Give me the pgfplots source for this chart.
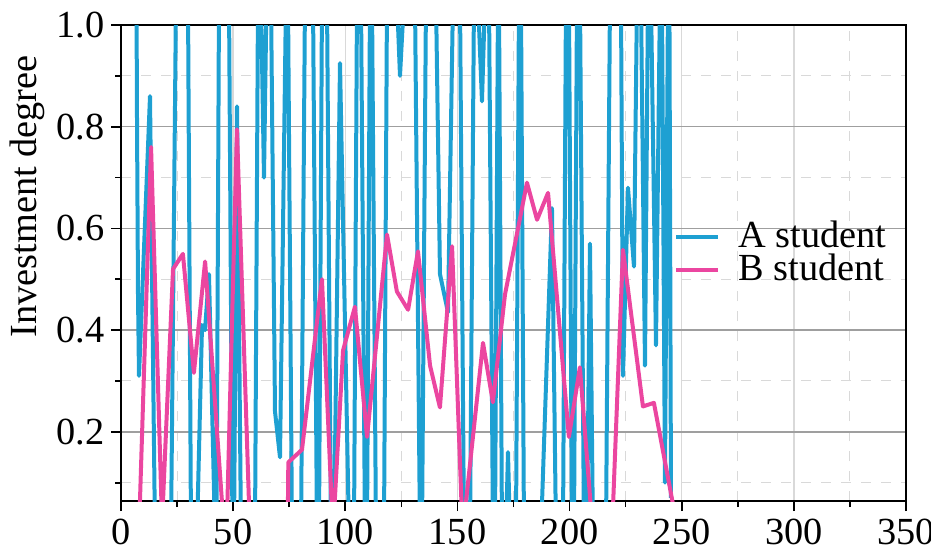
\documentclass[border=0pt]{standalone}
\usepackage{pgfplots}
\pgfplotsset{compat=1.18}
\usepackage{fontspec}
\setmainfont{Liberation Serif}
\definecolor{astu}{RGB}{30,160,210}
\definecolor{bstu}{RGB}{235,70,160}

\begin{document}
\begin{tikzpicture}
\begin{axis}[
  scale only axis, width=235.5pt, height=142.8pt,
  xmin=0, xmax=350, ymin=0.064, ymax=1.0,
  xtick={0,50,...,350}, minor xtick={25,75,...,325},
  ytick={0.2,0.4,0.6,0.8,1.0}, minor ytick={0.1,0.3,0.5,0.7,0.9},
  yticklabel style={/pgf/number format/fixed, /pgf/number format/fixed zerofill,
    /pgf/number format/precision=1, xshift=1.5pt},
  xticklabel style={yshift=1.2pt},
  /pgf/number format/assume math mode=true,
  tick align=outside, xtick pos=bottom, ytick pos=left,
  major tick length=3pt, minor tick length=1.8pt,
  tick style={black, line width=0.5pt},
  axis line style={line width=0.7pt},
  grid=both,
  major x grid style={gray!30, line width=0.4pt},
  minor x grid style={gray!30, dashed, line width=0.3pt},
  major y grid style={gray!75, line width=0.4pt},
  minor y grid style={gray!30, dashed, line width=0.3pt},
  ticklabel style={font=\fontsize{11.5}{13}\selectfont},
  ylabel={Investment degree},
  ylabel style={font=\fontsize{11.5}{13}\selectfont, at={(ticklabel cs:0.64,-3.5pt)}},
  legend style={at={(rel axis cs:0.995,0.52)}, anchor=east, draw=none, fill=none,
    font=\fontsize{11.5}{13}\selectfont, row sep=-2.5pt, column sep=4pt,
    nodes={inner sep=1.5pt}},
  legend cell align=left,
  legend image code/.code={\draw[#1] (0cm,0cm) -- (0.44cm,0cm);},
]
% A student
\addplot[astu, line width=1.2pt, line join=round] coordinates {
(6.91,1.05) (7.13,0.82) (7.58,0.47) (8.02,0.31) (12.93,0.86) (15.16,0.0)
(22.29,0.0) (24.52,1.05) (29.87,1.05) (31.21,0.0) (33.88,0.0) (36.13,0.41)
(37.45,0.40) (39.23,0.51) (41.91,0.0) (42.58,0.0) (43.69,1.05) (48.15,1.05)
(49.71,0.0) (50.38,0.0) (51.72,0.84) (53.50,0.0) (59.74,0.0) (61.08,1.05)
(62.42,1.05) (63.75,0.70) (64.87,1.05) (66.88,1.05) (68.66,0.24) (70.89,0.15)
(73.56,1.05) (74.45,1.05) (76.24,0.0) (80.25,0.0) (82.03,1.05) (85.60,1.05)
(87.38,0.0) (88.27,0.0) (89.61,1.05) (91.84,1.05) (93.62,0.0) (94.96,0.0)
(97.64,0.925) (101.65,0.0) (103.88,0.0) (105.22,1.05) (107.00,1.05) (108.78,0.0)
(109.68,0.0) (111.01,1.05) (111.90,1.05) (113.69,0.0) (117.25,0.0) (118.59,1.05)
(123.05,1.05) (124.39,0.90) (126.17,1.05) (131.07,1.05) (133.30,0.0) (134.19,0.0)
(135.98,1.05) (140.44,1.05) (142.22,0.51) (145.79,0.435) (148.02,1.05) (151.14,1.05)
(152.92,0.0) (155.60,0.0) (157.38,1.05) (159.16,1.05) (160.94,0.85) (162.28,1.05)
(164.07,1.05) (165.85,0.0) (166.74,0.0) (168.08,1.05) (168.52,1.05) (169.86,0.0)
(171.64,0.0) (172.54,0.16) (173.43,0.0) (176.10,0.0) (177.44,1.05) (178.33,1.05)
(179.67,0.0) (187.25,0.0) (192.15,0.64) (193.94,0.0) (197.06,0.0) (198.39,1.05)
(199.73,1.05) (201.07,0.0) (201.96,0.0) (203.30,1.05) (204.64,1.05) (206.42,0.0)
(207.76,0.0) (209.09,0.57) (210.43,0.0) (216.23,0.0) (218.01,1.05) (222.92,1.05)
(223.81,0.31) (226.04,0.68) (228.71,0.525) (230.05,1.05) (231.83,1.05) (233.62,0.33)
(234.95,1.05) (236.29,1.05) (238.52,0.37) (240.30,1.05) (241.19,1.05) (242.53,0.10)
(243.87,1.05) (244.50,1.05) (245.21,0.07)
};
% B student
\addplot[bstu, line width=1.2pt, line join=round] coordinates {
(8.0,0.0) (13.4,0.76) (18.3,0.02) (23.2,0.52) (27.6,0.55) (32.5,0.316)
(37.5,0.535) (46.8,-0.05) (51.7,0.795) (57.5,0.0) (74.3,0.0) (74.6,0.14)
(80.7,0.165) (89.6,0.50) (94.5,0.0) (99.0,0.36) (104.3,0.446) (109.7,0.19)
(118.6,0.588) (123.0,0.476) (128.0,0.44) (132.4,0.555) (137.8,0.33) (142.2,0.248)
(147.6,0.565) (152.3,0.0) (161.4,0.375) (165.8,0.258) (171.2,0.47) (177.9,0.62)
(181.0,0.69) (185.5,0.617) (190.4,0.67) (199.7,0.19) (204.6,0.327) (210.4,0.0)
(218.9,0.0) (223.8,0.558) (232.7,0.25) (237.6,0.257) (246.0,0.06)
};
\legend{A student, B student}
\end{axis}
\pgfresetboundingbox
\path ([xshift=-36.3pt, yshift=-15.5pt]current axis.south west)
  rectangle ([xshift=7.5pt, yshift=7.5pt]current axis.north east);
\end{tikzpicture}
\end{document}
